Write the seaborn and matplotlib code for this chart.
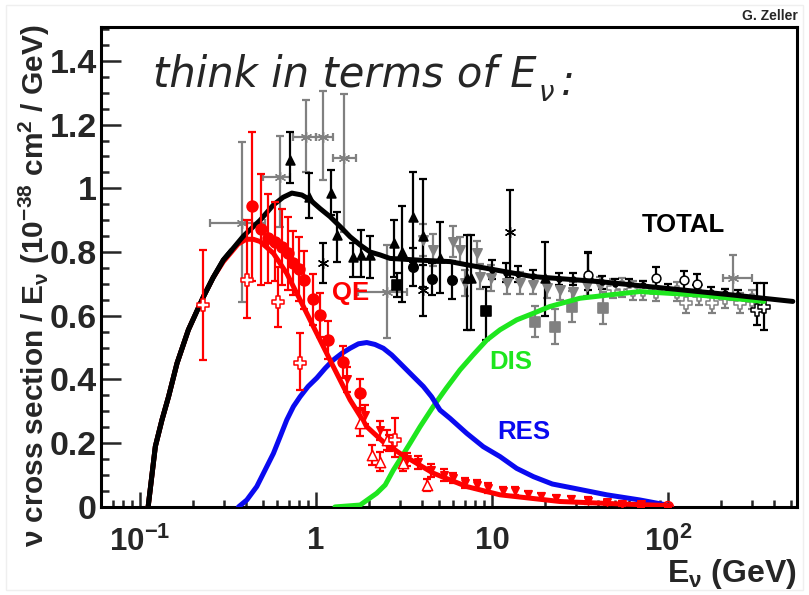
import numpy as np
import matplotlib
matplotlib.use("Agg")
import matplotlib.pyplot as plt
import seaborn as sns
from matplotlib.ticker import MultipleLocator, FuncFormatter, NullFormatter, LogLocator
from matplotlib.patches import Rectangle

# ---------------- model curves: E (GeV) vs sigma/E (1e-38 cm^2/GeV) ----------------
total_E = [0.111, 0.122, 0.133, 0.145, 0.162, 0.188, 0.229, 0.26, 0.297, 0.33, 0.386, 0.481, 0.572,
           0.65, 0.728, 0.83, 0.924, 1.05, 1.2, 1.37, 1.56, 1.78, 2.03, 2.31, 2.63, 3.73, 5.77,
           7.18, 17, 41, 98, 235, 512]
total_v = [0.0, 0.19, 0.273, 0.346, 0.451, 0.556, 0.66, 0.72, 0.775, 0.805, 0.85, 0.90, 0.948,
           0.972, 0.985, 0.979, 0.964, 0.937, 0.911, 0.88, 0.848, 0.822, 0.80, 0.791, 0.78, 0.775, 0.77,
           0.76, 0.723, 0.707, 0.686, 0.665, 0.645]

qe_E = [0.111, 0.122, 0.133, 0.145, 0.162, 0.188, 0.229, 0.26, 0.297, 0.33, 0.36, 0.40, 0.44, 0.481,
        0.572, 0.681, 0.811, 0.965, 1.2, 1.56, 1.94, 2.4, 3.0, 4.63, 7.18, 11.1, 24.4, 50, 103]
qe_v = [0.0, 0.19, 0.273, 0.346, 0.451, 0.556, 0.66, 0.72, 0.77, 0.80, 0.825, 0.84, 0.84, 0.833,
        0.796, 0.733, 0.65, 0.566, 0.461, 0.336, 0.252, 0.205, 0.168, 0.106, 0.064, 0.038, 0.017, 0.01, 0.004]

res_E = [0.362, 0.404, 0.46, 0.513, 0.572, 0.624, 0.681, 0.743, 0.811, 0.90, 1.01, 1.125, 1.25,
         1.40, 1.56, 1.74, 1.94, 2.16, 2.41, 2.69, 3.0, 3.5, 4.07, 4.53, 5.06, 5.77, 7.18, 8.92,
         11.1, 13.8, 17.2, 22, 29, 44.9, 69, 103]
res_v = [0.0, 0.022, 0.064, 0.116, 0.168, 0.22, 0.273, 0.315, 0.346, 0.378, 0.405, 0.435, 0.461,
         0.482, 0.498, 0.512, 0.516, 0.51, 0.498, 0.477, 0.451, 0.414, 0.378, 0.346, 0.304, 0.278, 0.231,
         0.189, 0.158, 0.121, 0.095, 0.072, 0.059, 0.038, 0.022, 0.004]

dis_E = [1.28, 1.78, 2.21, 2.47, 2.75, 3.07, 3.42, 3.9, 4.63, 5.5, 6.57, 7.8, 9.34, 11.1, 13.8,
         17.2, 21.3, 31.6, 69, 150, 350]
dis_v = [0.0, 0.006, 0.043, 0.069, 0.116, 0.158, 0.2, 0.252, 0.315, 0.373, 0.43, 0.477, 0.524, 0.556,
         0.587, 0.608, 0.629, 0.655, 0.676, 0.665, 0.645]

# ---------------- measurements ----------------
# quasi-elastic: filled circles
qe_circ_E = [0.431, 0.485, 0.536, 0.585, 0.638, 0.696, 0.743, 0.80, 0.858, 0.965, 1.05, 1.17, 1.43, 1.78]
qe_circ_v = [0.943, 0.871, 0.843, 0.833, 0.815, 0.796, 0.765, 0.746, 0.712, 0.652, 0.603, 0.524, 0.456, 0.357]
qe_circ_err = [0.235, 0.175, 0.14, 0.125, 0.12, 0.115, 0.10, 0.10, 0.09, 0.08, 0.07, 0.06, 0.05, 0.045]

# quasi-elastic: open crosses
qe_cross_E = [0.229, 0.404, 0.611, 0.811, 2.81]
qe_cross_v = [0.634, 0.712, 0.644, 0.453, 0.21]
qe_cross_lo = [0.461, 0.592, 0.566, 0.367, 0.157]
qe_cross_hi = [0.807, 0.90, 0.754, 0.545, 0.28]

# quasi-elastic: open triangles
qe_otri_E = [1.78, 2.07, 2.31, 2.52, 3.13, 4.26]
qe_otri_v = [0.263, 0.163, 0.142, 0.21, 0.137, 0.069]
qe_otri_err = [0.04, 0.03, 0.03, 0.03, 0.025, 0.02]

# quasi-elastic: filled down triangles
qe_dtri_E = [1.5, 1.9, 2.3, 2.6, 3.3, 3.8, 4.5, 5.3, 6.0, 7.0, 8.2, 9.5, 11.5, 13.5,
             16, 19, 23, 28, 35, 45, 55, 70]
qe_dtri_v = [0.40, 0.29, 0.24, 0.20, 0.15, 0.14, 0.115, 0.10, 0.09, 0.075, 0.07, 0.06, 0.05, 0.05,
             0.04, 0.035, 0.028, 0.025, 0.02, 0.015, 0.01, 0.008]
qe_dtri_err = [0.04, 0.03, 0.03, 0.025, 0.02, 0.02, 0.02, 0.02, 0.015, 0.015, 0.015, 0.015, 0.012, 0.012,
               0.01, 0.01, 0.01, 0.01, 0.01, 0.008, 0.008, 0.008]

# quasi-elastic: open circle at the high end
qe_ocirc_E = [100]
qe_ocirc_v = [0.0]

# total: filled up triangles
tot_tri_E = [0.712, 0.916, 1.22, 1.32, 1.62, 1.8, 2.03, 2.78, 3.07, 3.57, 4.07, 5.06, 7.2, 7.6, 20, 35]
tot_tri_v = [1.089, 0.974, 0.985, 0.854, 0.786, 0.791, 0.79, 0.828, 0.80, 0.911, 0.85, 0.78, 0.72, 0.72, 0.72, 0.73]
tot_tri_lo = [1.016, 0.906, 0.917, 0.77, 0.723, 0.723, 0.72, 0.723, 0.644, 0.77, 0.69, 0.67, 0.556, 0.556, 0.60, 0.68]
tot_tri_hi = [1.178, 1.047, 1.058, 0.927, 0.828, 0.87, 0.85, 0.90, 0.943, 1.052, 1.03, 0.895, 0.854, 0.854, 0.83, 0.80]

# total: filled circles
tot_circ_E = [3.57, 4.54, 5.9]
tot_circ_v = [0.754, 0.715, 0.712]
tot_circ_err = [0.06, 0.05, 0.06]

# total: stars
tot_star_E = [1.1, 4.07, 12.6]
tot_star_v = [0.765, 0.68, 0.864]
tot_star_lo = [0.702, 0.60, 0.72]
tot_star_hi = [0.828, 0.76, 0.995]

# total: filled squares
tot_sq_E = [2.9, 9.26]
tot_sq_v = [0.697, 0.616]
tot_sq_lo = [0.66, 0.524]
tot_sq_hi = [0.735, 0.69]

# total: small markers along the high-energy plateau
tot_dot_E = [10, 12, 14, 17, 24, 29, 42, 50, 60, 72, 100, 145, 175, 210, 250]
tot_dot_v = [0.745, 0.735, 0.73, 0.725, 0.715, 0.715, 0.705, 0.70, 0.70, 0.695, 0.685, 0.68, 0.675, 0.67, 0.665]
tot_dot_err = [0.03, 0.03, 0.025, 0.02, 0.02, 0.02, 0.02, 0.015, 0.015, 0.015, 0.015, 0.015, 0.015, 0.015, 0.015]

# total: open markers at high energy
tot_open_E = [35, 86, 124, 147]
tot_open_v = [0.728, 0.718, 0.712, 0.70]
tot_open_err = [0.07, 0.035, 0.03, 0.03]

# total: black-edged open crosses
tot_ocross_E = [320, 350]
tot_ocross_v = [0.618, 0.629]
tot_ocross_lo = [0.571, 0.555]
tot_ocross_hi = [0.702, 0.702]

# total (gray): stars with energy bins
g_star_E = [0.378, 0.624, 0.877, 1.1, 1.45, 2.52, 234]
g_star_v = [0.892, 1.034, 1.162, 1.162, 1.094, 0.676, 0.718]
g_star_xlo = [0.25, 0.502, 0.74, 1.0, 1.25, 1.74, 205]
g_star_xhi = [0.513, 0.711, 1.0, 1.25, 1.68, 3.28, 300]
g_star_lo = [0.644, 0.88, 1.052, 1.026, 0.864, 0.53, 0.65]
g_star_hi = [1.145, 1.164, 1.277, 1.306, 1.296, 0.822, 0.79]

# total (gray): down triangles
g_dtri_E = [4.07, 4.6, 6.0, 6.6, 7.0, 8.2, 8.5, 9.9, 12.1, 14.4, 17.2, 20.4, 24.3, 29, 34.5, 41]
g_dtri_v = [0.838, 0.807, 0.833, 0.807, 0.703, 0.796, 0.723, 0.718, 0.702, 0.702, 0.697, 0.686, 0.681, 0.676, 0.692, 0.692]
g_dtri_err = [0.05, 0.05, 0.05, 0.04, 0.04, 0.04, 0.04, 0.04, 0.035, 0.035, 0.03, 0.03, 0.03, 0.03, 0.03, 0.03]

# total (gray): squares
g_sq_E = [17.5, 22.8, 28.3, 42.7]
g_sq_v = [0.582, 0.566, 0.629, 0.624]
g_sq_err = [0.05, 0.055, 0.05, 0.05]

# total (gray): open crosses
g_cross_E = [48.9, 55, 63, 72, 85, 112, 127, 150, 177, 210, 257, 300]
g_cross_v = [0.686, 0.69, 0.68, 0.68, 0.675, 0.676, 0.64, 0.665, 0.64, 0.655, 0.64, 0.65]
g_cross_err = [0.03, 0.03, 0.03, 0.03, 0.03, 0.03, 0.03, 0.03, 0.03, 0.03, 0.03, 0.03]

# axis ticks
xtick_vals = [0.1, 1, 10, 100]
xtick_labels = [r"$10^{-1}$", "1", "10", r"$10^{2}$"]

# curve labels
curve_labels = ["QE", "DIS", "RES", "TOTAL"]
label_E = [1.58, 12.7, 15.1, 122]
label_v = [0.67, 0.4535, 0.234, 0.885]

RED = "#ff0000"
BLUE = "#0a0af0"
GREEN = "#1ee61e"
GRAY = "#808080"
BLACK = "#000000"

sns.set_style("white")
plt.rcParams["font.family"] = ["Liberation Sans", "DejaVu Sans"]
plt.rcParams["font.weight"] = "bold"
plt.rcParams["mathtext.fontset"] = "custom"
plt.rcParams["mathtext.rm"] = "Liberation Sans:bold"
plt.rcParams["mathtext.bf"] = "Liberation Sans:bold"
plt.rcParams["mathtext.it"] = "Liberation Sans:italic:bold"

fig = plt.figure(figsize=(8.09, 5.95), dpi=100)
fig.patch.set_facecolor("white")
ax = fig.add_axes([0.125, 0.148, 0.860, 0.807])
ax.set_facecolor("white")

# faint slide border
fig.patches.append(Rectangle((0.007, 0.008), 0.986, 0.984, transform=fig.transFigure,
                             fill=False, edgecolor="#efefef", lw=1.0))


def sym(v, e):
    v = np.asarray(v, float)
    e = np.asarray(e, float)
    return v - e, v + e


def points(E, v, lo, hi, color, marker, face, size, lw=1.2, xlo=None, xhi=None, z=3):
    E = np.asarray(E, float)
    v = np.asarray(v, float)
    yerr = [v - np.asarray(lo, float), np.asarray(hi, float) - v]
    xerr = None
    if xlo is not None:
        xerr = [E - np.asarray(xlo, float), np.asarray(xhi, float) - E]
    ax.errorbar(E, v, yerr=yerr, xerr=xerr, fmt="none", ecolor=color, elinewidth=1.6,
                capsize=2.6, capthick=1.6, zorder=z)
    sns.scatterplot(x=E, y=v, ax=ax, marker=marker, s=size, color=face, edgecolor=color,
                    linewidth=lw, zorder=z + 0.5, legend=False)


ASTER = (6, 2, 0)

# gray measurements
points(g_star_E, g_star_v, g_star_lo, g_star_hi, GRAY, ASTER, GRAY, 55, lw=1.0,
       xlo=g_star_xlo, xhi=g_star_xhi)
points(g_dtri_E, g_dtri_v, *sym(g_dtri_v, g_dtri_err), GRAY, "v", GRAY, 45)
points(g_sq_E, g_sq_v, *sym(g_sq_v, g_sq_err), GRAY, "s", GRAY, 55)
points(g_cross_E, g_cross_v, *sym(g_cross_v, g_cross_err), GRAY, "P", "white", 70, lw=1.1)

# black measurements
points(tot_tri_E, tot_tri_v, tot_tri_lo, tot_tri_hi, BLACK, "^", BLACK, 40)
points(tot_circ_E, tot_circ_v, *sym(tot_circ_v, tot_circ_err), BLACK, "o", BLACK, 45)
points(tot_star_E, tot_star_v, tot_star_lo, tot_star_hi, BLACK, ASTER, BLACK, 55, lw=1.0)
points(tot_sq_E, tot_sq_v, tot_sq_lo, tot_sq_hi, BLACK, "s", BLACK, 50)
points(tot_dot_E, tot_dot_v, *sym(tot_dot_v, tot_dot_err), BLACK, "o", BLACK, 12)
points(tot_open_E, tot_open_v, *sym(tot_open_v, tot_open_err), BLACK, "o", "white", 40, lw=1.1)
points(tot_ocross_E, tot_ocross_v, tot_ocross_lo, tot_ocross_hi, BLACK, "P", "white", 80, lw=1.1)

# model curves
line_kw = dict(ax=ax, lw=3.6, sort=False, estimator=None)
sns.lineplot(x=dis_E, y=dis_v, color=GREEN, zorder=5, **line_kw)
sns.lineplot(x=res_E, y=res_v, color=BLUE, zorder=5, **line_kw)
sns.lineplot(x=total_E, y=total_v, color=BLACK, zorder=6, **line_kw)
sns.lineplot(x=qe_E, y=qe_v, color=RED, zorder=5, **line_kw)
# total and QE coincide at low energy: keep total on top there
low = [i for i, e in enumerate(total_E) if e < 0.34]
sns.lineplot(x=[total_E[i] for i in low], y=[total_v[i] for i in low], color=BLACK, zorder=6, **line_kw)

# red measurements
points(qe_dtri_E, qe_dtri_v, *sym(qe_dtri_v, qe_dtri_err), RED, "v", RED, 28, z=7)
points(qe_otri_E, qe_otri_v, *sym(qe_otri_v, qe_otri_err), RED, "^", "white", 55, lw=1.1, z=7)
points(qe_circ_E, qe_circ_v, *sym(qe_circ_v, qe_circ_err), RED, "o", RED, 60, z=7)
points(qe_cross_E, qe_cross_v, qe_cross_lo, qe_cross_hi, RED, "P", "white", 75, lw=1.1, z=7)
points(qe_ocirc_E, qe_ocirc_v, qe_ocirc_v, qe_ocirc_v, RED, "o", "none", 60, lw=1.1, z=7)

# curve names
label_colors = [RED, GREEN, BLUE, BLACK]
for name, e, v, c in zip(curve_labels, label_E, label_v, label_colors):
    ax.text(e, v, name, color=c, fontsize=18.5, fontweight="bold", ha="center", va="center",
            zorder=8)

# axes
ax.set_xscale("log")
ax.set_xlim(0.06, 540)
ax.set_ylim(0, 1.507)
ax.set_xticks(xtick_vals)
ax.set_xticklabels(xtick_labels)
ax.xaxis.set_minor_locator(LogLocator(base=10, subs=np.arange(2, 10)))
ax.xaxis.set_minor_formatter(NullFormatter())
ax.yaxis.set_major_locator(MultipleLocator(0.2))
ax.yaxis.set_minor_locator(MultipleLocator(0.05))
ax.yaxis.set_major_formatter(FuncFormatter(lambda y, p: "%g" % round(y, 2)))

for s in ax.spines.values():
    s.set_linewidth(2.2)
    s.set_color("black")
    s.set_visible(True)

ax.tick_params(axis="y", which="major", direction="in", length=14.4, width=1.8, left=True,
               right=False, labelsize=24.5, pad=3)
ax.tick_params(axis="y", which="minor", direction="in", length=5.8, width=1.8, left=True, right=False)
ax.tick_params(axis="x", which="major", direction="in", length=10.8, width=1.8, bottom=True,
               top=False, labelsize=22.5, pad=14)
ax.tick_params(axis="x", which="minor", direction="in", length=5.4, width=1.8, bottom=True, top=False)
for t in ax.get_xticklabels() + ax.get_yticklabels():
    t.set_fontweight("bold")

ax.set_ylabel(r"ν cross section / E$_{\mathrm{ν}}$ (10$^{-38}$ cm$^{2}$ / GeV)", fontsize=21.5,
              fontweight="bold", loc="top")
ax.yaxis.set_label_coords(-0.07, 1.004)
ax.set_xlabel(r"E$_{\mathrm{ν}}$ (GeV)", fontsize=23, fontweight="bold", loc="right")
ax.xaxis.set_label_coords(1.0, -0.105)

# headline
head_kw = dict(family="DejaVu Sans", style="italic", fontweight="normal", zorder=9)
t1 = ax.text(0.075, 0.875, "think in terms of E", transform=ax.transAxes, fontsize=30,
             ha="left", va="baseline", **head_kw)
t2 = ax.annotate("ν", xy=(1, 0), xycoords=t1, xytext=(1, -4), textcoords="offset points",
                 fontsize=20, ha="left", va="baseline", **head_kw)
t3 = ax.annotate(":", xy=(1, 0), xycoords=t2, xytext=(5, 9), textcoords="offset points",
                 fontsize=30, ha="left", va="baseline", **head_kw)

fig.text(0.986, 0.973, "G. Zeller", ha="right", va="center", fontsize=10, fontweight="bold")

fig.savefig("out.png", dpi=100, facecolor="white")
